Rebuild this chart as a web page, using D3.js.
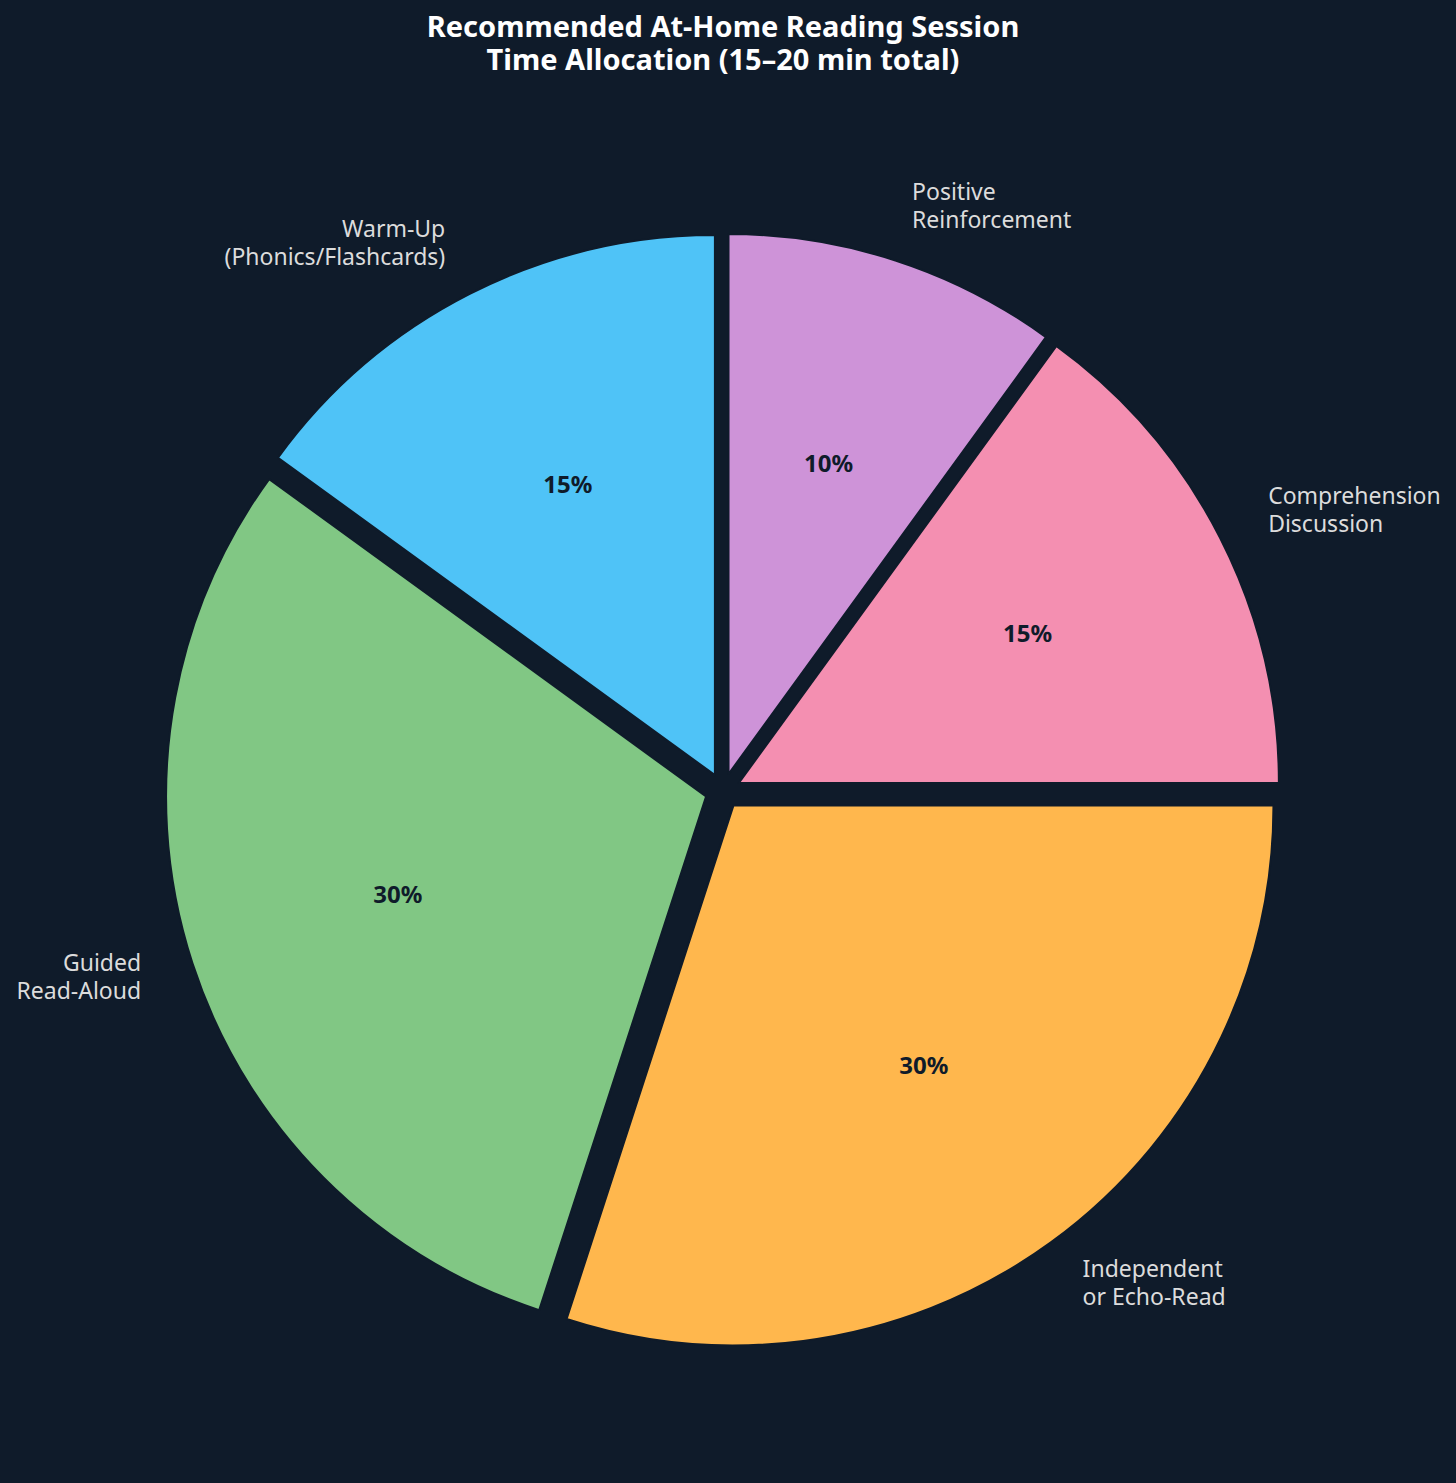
<!DOCTYPE html>
<html>
<head>
<meta charset="utf-8">
<script src="https://cdn.jsdelivr.net/npm/d3@7"></script>
<style>
    body { margin: 0; background: #0f1b2a; }
    text { font-family: "Noto Sans", "Open Sans", sans-serif; }
</style>
</head>
<body>
<div id="wrapper"></div>
<script>
// data
const categories = [
    "Warm-Up\n(Phonics/Flashcards)",
    "Guided\nRead-Aloud",
    "Independent\nor Echo-Read",
    "Comprehension\nDiscussion",
    "Positive\nReinforcement"
];
const shares = [15, 30, 30, 15, 10];
const colors = ["#4fc3f7", "#81c784", "#ffb74d", "#f48fb1", "#ce93d8"];
const explode = [0.033, 0.033, 0.033, 0.033, 0.033];

const dataset = categories.map((c, i) => ({ label: c, value: shares[i], color: colors[i], explode: explode[i] }));

//2. dimensions
const dimensions = {
    width: 1456,
    height: 1483,
    cx: 723,
    cy: 791,
    radius: 540
};

//3. canvas
const wrapper = d3.select('#wrapper')
    .append('svg')
    .attr('width', dimensions.width)
    .attr('height', dimensions.height)
    .style('background', '#0f1b2a');

// title
const title = wrapper.append('text')
    .attr('x', dimensions.width / 2 - 5)
    .attr('y', 37)
    .attr('text-anchor', 'middle')
    .attr('fill', '#ffffff')
    .style('font-size', '29px')
    .style('font-weight', 'bold');
title.append('tspan').attr('x', dimensions.width / 2 - 5).text('Recommended At-Home Reading Session');
title.append('tspan').attr('x', dimensions.width / 2 - 5).attr('dy', 33).text('Time Allocation (15–20 min total)');

const bounds = wrapper.append('g')
    .attr('transform', `translate(${dimensions.cx},${dimensions.cy})`);

//4. pie layout (counterclockwise from 12 o'clock like startangle=90)
const pie = d3.pie()
    .sort(null)
    .value(d => d.value)
    .startAngle(0)
    .endAngle(-2 * Math.PI);

const arcGen = d3.arc()
    .innerRadius(0)
    .outerRadius(dimensions.radius);

const arcs = pie(dataset);
const mid = d => (d.startAngle + d.endAngle) / 2;
const offset = (d, dist) => [Math.sin(mid(d)) * dist, -Math.cos(mid(d)) * dist];

//5. wedges
const slices = bounds.selectAll('g.slice')
    .data(arcs)
    .join('g')
    .attr('class', 'slice')
    .attr('transform', d => {
        const [x, y] = offset(d, d.data.explode * dimensions.radius);
        return `translate(${x},${y})`;
    });

slices.append('path')
    .attr('d', arcGen)
    .attr('fill', d => d.data.color)
    .attr('stroke', '#0f1b2a')
    .attr('stroke-width', 2)
    .attr('stroke-linejoin', 'round');

// percentage labels
slices.append('text')
    .attr('x', d => offset(d, 0.6 * dimensions.radius)[0])
    .attr('y', d => offset(d, 0.6 * dimensions.radius)[1] - 3)
    .attr('text-anchor', 'middle')
    .attr('dominant-baseline', 'central')
    .attr('fill', '#0f1b2a')
    .style('font-size', '24px')
    .style('font-weight', 'bold')
    .text(d => d.data.value + '%');

// category labels
const lineHeight = 28;
slices.each(function(d) {
    const [x, y] = offset(d, 1.1 * dimensions.radius);
    const lines = d.data.label.split('\n');
    const t = d3.select(this).append('text')
        .attr('text-anchor', x > 0 ? 'start' : 'end')
        .attr('fill', '#dcdcdc')
        .style('font-size', '23px');
    lines.forEach((line, i) => {
        t.append('tspan')
            .attr('x', x)
            .attr('y', y - 4 + (i - (lines.length - 1) / 2) * lineHeight)
            .attr('dominant-baseline', 'central')
            .text(line);
    });
});
</script>
</body>
</html>
